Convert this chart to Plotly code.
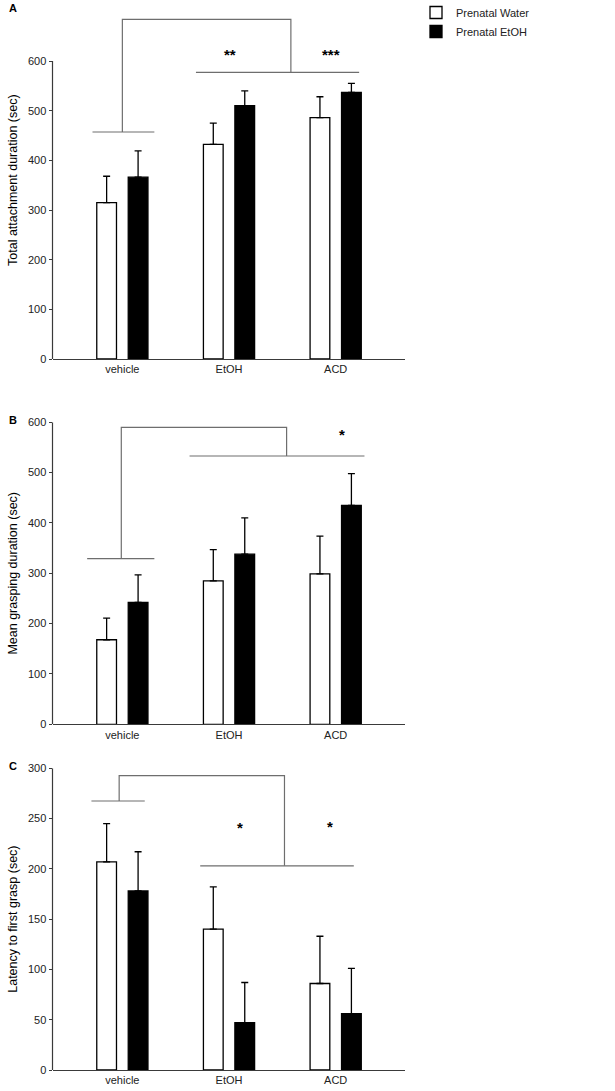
import plotly.graph_objects as go

W, H = 615, 1091

groups = ['vehicle', 'EtOH', 'ACD']
series = ['Prenatal Water', 'Prenatal EtOH']

# panel A - total attachment duration (sec)
a_water = [315, 432, 486]
a_water_top = [368, 475, 528]
a_etoh = [366, 510, 537]
a_etoh_top = [419, 540, 555]

# panel B - mean grasping duration (sec)
b_water = [168, 285, 299]
b_water_top = [211, 347, 374]
b_etoh = [242, 338, 435]
b_etoh_top = [297, 410, 498]

# panel C - latency to first grasp (sec)
c_water = [207, 140, 86]
c_water_top = [245, 182, 133]
c_etoh = [178, 47, 56]
c_etoh_top = [217, 87, 101]

panels = [
    dict(label='A', title='Total attachment duration (sec)',
         water=a_water, water_top=a_water_top, etoh=a_etoh, etoh_top=a_etoh_top,
         dom=(61, 359), ymax=600, rng=720,
         brackets=[(-0.28, 0.30, 457), (0.69, 2.22, 577)], top=(0.0, 1.58, 684),
         stars=[(1.01, 614, '**'), (1.96, 614, '***')]),
    dict(label='B', title='Mean grasping duration (sec)',
         water=b_water, water_top=b_water_top, etoh=b_etoh, etoh_top=b_etoh_top,
         dom=(422.3, 724.3), ymax=600, rng=600,
         brackets=[(-0.33, 0.30, 329), (0.63, 2.27, 533)], top=(-0.01, 1.54, 590),
         stars=[(2.06, 576, '*')]),
    dict(label='C', title='Latency to first grasp (sec)',
         water=c_water, water_top=c_water_top, etoh=c_etoh, etoh_top=c_etoh_top,
         dom=(768.3, 1070), ymax=300, rng=300,
         brackets=[(-0.29, 0.21, 267.5), (0.73, 2.17, 203)], top=(-0.03, 1.52, 292.7),
         stars=[(1.10, 241, '*'), (1.95, 242, '*')]),
]

fig = go.Figure()
shapes = []
annotations = []
axis_col = '#3a3a3a'
brk_col = '#6e6e6e'
FONT = 'Arial, Liberation Sans, sans-serif'
tick_font = dict(family=FONT, size=11, color='#222')

for i, p in enumerate(panels):
    n = '' if i == 0 else str(i + 1)
    xa, ya = 'x' + n, 'y' + n
    top_px, bot_px = p['dom']
    px_per = (bot_px - top_px) / p['ymax']
    y_top_px = bot_px - p['rng'] * px_per
    dom = [1 - bot_px / H, 1 - y_top_px / H]

    for name, vals, tops, fill, off in [
        (series[0], p['water'], p['water_top'], 'white', -0.24),
        (series[1], p['etoh'], p['etoh_top'], 'black', 0.055),
    ]:
        fig.add_trace(go.Bar(
            x=groups, y=vals, name=name, xaxis=xa, yaxis=ya,
            width=0.185, offset=off,
            marker=dict(color=fill, line=dict(color='black', width=1.3)),
            error_y=dict(type='data', symmetric=False,
                         array=[t - v for t, v in zip(tops, vals)],
                         arrayminus=[0] * len(vals),
                         color='black', thickness=1.3, width=3.5),
            showlegend=(i == 0),
        ))

    fig.layout['xaxis' + n] = dict(
        domain=[52.5 / W, 405 / W], anchor=ya, type='category',
        range=[-0.655, 2.65], showline=True, linecolor=axis_col, linewidth=1.2,
        ticks='', tickfont=tick_font, showgrid=False, zeroline=False,
        automargin=False, fixedrange=True)
    fig.layout['yaxis' + n] = dict(
        domain=dom, anchor=xa, range=[0, p['rng']],
        tickvals=list(range(0, p['ymax'] + 1, 50 if p['ymax'] == 300 else 100)),
        ticks='outside', ticklen=3, tickcolor=axis_col, tickwidth=1.2,
        showline=False, showgrid=False, zeroline=False, tickfont=tick_font,
        title=dict(text=p['title'], font=dict(family=FONT, size=12.5, color='black'),
                   standoff=7),
        automargin=False, fixedrange=True)

    # y axis line only up to the last tick
    shapes.append(dict(type='line', xref=xa + ' domain', yref=ya, x0=0, x1=0,
                       y0=0, y1=p['ymax'], line=dict(color=axis_col, width=1.2)))

    # significance brackets
    for x0, x1, yv in p['brackets']:
        shapes.append(dict(type='line', xref=xa, yref=ya, x0=x0, x1=x1, y0=yv, y1=yv,
                           line=dict(color=brk_col, width=1.2)))
    tx0, tx1, ty = p['top']
    left_y = p['brackets'][0][2]
    right_y = p['brackets'][1][2]
    shapes.append(dict(type='path', xref=xa, yref=ya,
                       path=f'M {tx0},{left_y} L {tx0},{ty} L {tx1},{ty} L {tx1},{right_y}',
                       line=dict(color=brk_col, width=1.2)))
    for sx, sy, s in p['stars']:
        annotations.append(dict(x=sx, y=sy, xref=xa, yref=ya, text='<b>' + s + '</b>',
                                showarrow=False,
                                font=dict(family=FONT, size=15, color='black')))

    annotations.append(dict(x=12.7 / W, y=1 - (8.3 if i == 0 else top_px - 2) / H,
                            xref='paper', yref='paper', text='<b>' + p['label'] + '</b>',
                            showarrow=False, xanchor='center', yanchor='middle',
                            font=dict(family=FONT, size=11, color='black')))

fig.update_layout(
    width=W, height=H,
    margin=dict(l=0, r=0, t=0, b=0, autoexpand=False),
    paper_bgcolor='white', plot_bgcolor='white',
    barmode='overlay',
    shapes=shapes, annotations=annotations,
    legend=dict(x=416 / W, y=1 + 2 / H, xanchor='left', yanchor='top',
                font=dict(family=FONT, size=11, color='#222'),
                bgcolor='rgba(0,0,0,0)', itemwidth=30, tracegroupgap=0),
    font=dict(family=FONT),
)

fig.write_html('out.html', config={'displayModeBar': False},
               post_script="document.body.style.margin='0';")
